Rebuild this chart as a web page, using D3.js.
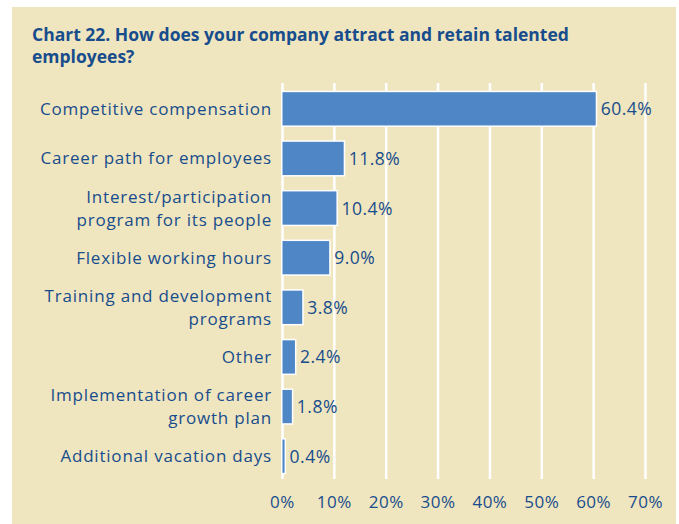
<!DOCTYPE html>
<html><head><meta charset="utf-8">
<script src="https://cdn.jsdelivr.net/npm/d3@7"></script>
<style>body{margin:0;background:#fff}svg{display:block}</style>
</head><body>
<script>
const categories = [
  ["Competitive compensation"],
  ["Career path for employees"],
  ["Interest/participation", "program for its people"],
  ["Flexible working hours"],
  ["Training and development", "programs"],
  ["Other"],
  ["Implementation of career", "growth plan"],
  ["Additional vacation days"]
];
const values = [60.4, 11.8, 10.4, 9.0, 3.8, 2.4, 1.8, 0.4];
const ticks = [0, 10, 20, 30, 40, 50, 60, 70];
const title = ["Chart 22. How does your company attract and retain talented", "employees?"];

const W = 679, H = 524;
const textColor = "#174d8c";
const font = "'Open Sans', 'Noto Sans', sans-serif";
const svg = d3.select("body").append("svg").attr("width", W).attr("height", H);
svg.append("rect").attr("x", 12).attr("y", 7).attr("width", W - 15).attr("height", H - 7).attr("fill", "#efe5bf");

svg.append("text").attr("x", 32).attr("y", 41).attr("fill", textColor)
  .attr("font-family", font).attr("font-weight", "bold").attr("font-size", 17.5)
  .selectAll("tspan").data(title).join("tspan")
  .attr("x", 32).attr("dy", (d, i) => i ? 22 : 0).text(d => d);

const x = d3.scaleLinear().domain([0, 70]).range([282.5, 645.5]);
const y = d3.scaleBand().domain(d3.range(values.length)).range([84, 481]).paddingInner(0.33).paddingOuter(0.165);

svg.append("g").selectAll("line").data(ticks).join("line")
  .attr("x1", d => x(d)).attr("x2", d => x(d)).attr("y1", 83).attr("y2", 479)
  .attr("stroke", "#fff").attr("stroke-width", 2.5);

const bars = svg.append("g");
bars.selectAll("rect.o").data(values).join("rect").attr("class", "o")
  .attr("x", x(0) - 1.5).attr("y", (d, i) => y(i) - 1.5)
  .attr("width", d => x(d) - x(0) + 3).attr("height", y.bandwidth() + 3)
  .attr("fill", "#fff");
bars.selectAll("rect.b").data(values).join("rect").attr("class", "b")
  .attr("x", x(0)).attr("y", (d, i) => y(i))
  .attr("width", d => x(d) - x(0)).attr("height", y.bandwidth())
  .attr("fill", "#4f86c6");

svg.append("g").selectAll("text").data(values).join("text")
  .attr("x", d => x(d) + 5).attr("y", (d, i) => y(i) + y.bandwidth() / 2 + 6.5)
  .attr("fill", textColor).attr("font-family", font).attr("font-size", 17.5)
  .attr("letter-spacing", 0.5)
  .text(d => d.toFixed(1) + "%");

svg.append("g").selectAll("text").data(categories).join("text")
  .attr("text-anchor", "end").attr("fill", textColor).attr("font-family", font).attr("font-size", 17)
  .attr("letter-spacing", 0.8)
  .each(function (d, i) {
    const c = y(i) + y.bandwidth() / 2 + 6 - (d.length - 1) * 11.5;
    d3.select(this).selectAll("tspan").data(d).join("tspan")
      .attr("x", 272).attr("y", (t, j) => c + j * 23).text(t => t);
  });

svg.append("g").selectAll("text").data(ticks).join("text")
  .attr("x", d => x(d)).attr("y", 508).attr("text-anchor", "middle")
  .attr("fill", textColor).attr("font-family", font).attr("font-size", 17)
  .attr("letter-spacing", 0.5)
  .text(d => d + "%");
</script>
</body></html>
